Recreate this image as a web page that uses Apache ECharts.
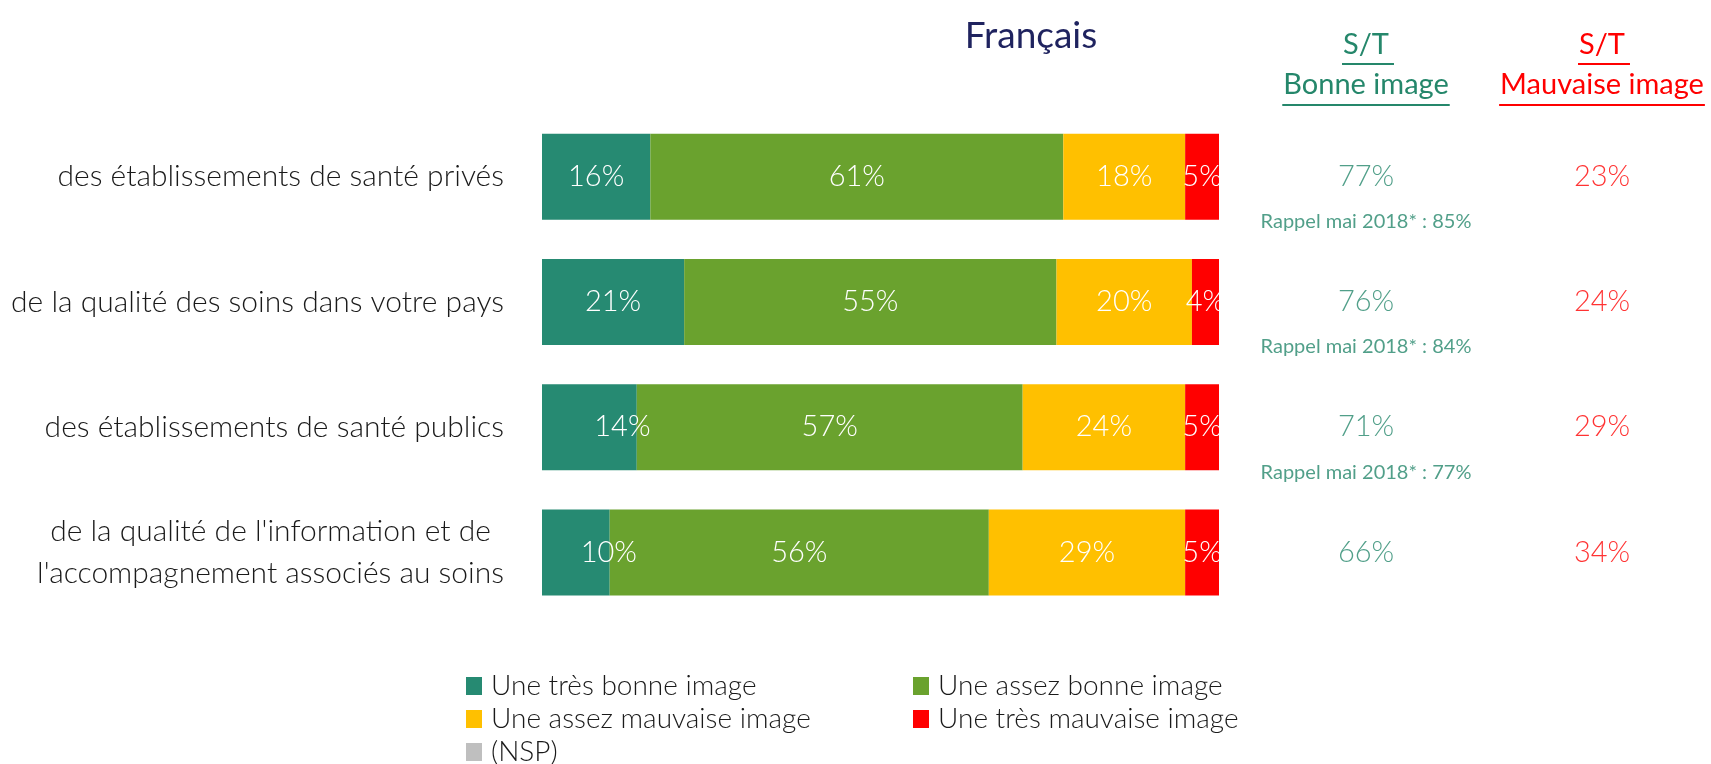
<!DOCTYPE html>
<html>
<head>
<meta charset="utf-8">
<title>Image des soins</title>
<script src="https://cdn.jsdelivr.net/npm/echarts@6/dist/echarts.min.js"></script>
<style>
  html, body { margin: 0; padding: 0; background: #fff; }
  #chart { width: 1711px; height: 764px; }
</style>
</head>
<body>
<div id="chart"></div>
<script>
// categories, top to bottom
var categories = [
  'des établissements de santé privés',
  'de la qualité des soins dans votre pays',
  'des établissements de santé publics',
  "de la qualité de l'information et de\nl'accompagnement associés au soins"
];
var seriesNames = ['Une très bonne image', 'Une assez bonne image', 'Une assez mauvaise image', 'Une très mauvaise image', '(NSP)'];
var tresBonne = [16, 21, 14, 10];
var assezBonne = [61, 55, 57, 56];
var assezMauvaise = [18, 20, 24, 29];
var tresMauvaise = [5, 4, 5, 5];
var nsp = [0, 0, 0, 0];
// sous-totaux
var stBonne = [77, 76, 71, 66];
var stMauvaise = [23, 24, 29, 34];
var rappel2018 = [85, 84, 77, null];

var colors = ['#268A72', '#6AA22E', '#FFC000', '#FF0000', '#BFBFBF'];
var GREEN_TXT = '#25876B';
var RED_TXT = '#FF0000';
var FONT = 'Lato';

var chart = echarts.init(document.getElementById('chart'));

var ctx = document.createElement('canvas').getContext('2d');
function textW(str, size) {
  ctx.font = size + 'px ' + FONT;
  return ctx.measureText(str).width;
}

function barSeries(name, vals, color, showLabel) {
  return {
    name: name,
    type: 'bar',
    stack: 'total',
    barWidth: 86,
    data: vals.map(function (v) {
      var item = { value: v };
      // small first segments: label pushed right as in the original
      if (name === seriesNames[0] && v < 15) item.label = { offset: [33, 0] };
      return item;
    }),
    itemStyle: { color: color },
    label: {
      show: showLabel,
      position: 'inside',
      color: '#fff',
      fontFamily: FONT,
      fontWeight: 300,
      fontSize: 29,
      formatter: function (p) { return p.value + '%'; }
    },
    silent: true
  };
}

function header(line1, line2, cx, color) {
  var s = 29;
  var w1 = textW(line1, s), w2 = textW(line2, s);
  return [
    { type: 'text', left: cx - w1 / 2, top: 30, style: { text: line1, font: s + 'px ' + FONT, fill: color } },
    { type: 'rect', shape: { x: cx - w1 / 2 - 1, y: 63, width: w1 + 6, height: 2 }, style: { fill: color } },
    { type: 'text', left: cx - w2 / 2, top: 70, style: { text: line2, font: s + 'px ' + FONT, fill: color } },
    { type: 'rect', shape: { x: cx - w2 / 2 - 1, y: 104, width: w2 + 2, height: 2 }, style: { fill: color } }
  ];
}

var legendText = { fontFamily: FONT, fontWeight: 300, fontSize: 28, color: '#1a1a1a', lineHeight: 30, padding: [0, 0, 0, 4] };

var option = {
  animation: false,
  title: {
    text: 'Français',
    left: 1026,
    top: 13,
    textAlign: 'center',
    textStyle: { fontFamily: FONT, fontSize: 37, fontWeight: 'normal', color: '#1F235F' }
  },
  legend: [
    {
      data: [seriesNames[0], seriesNames[2], seriesNames[4]],
      orient: 'vertical', left: 466, top: 671, height: 120, padding: 0, itemGap: 3,
      itemWidth: 16, itemHeight: 18, icon: 'rect', selectedMode: false,
      textStyle: legendText
    },
    {
      data: [seriesNames[1], seriesNames[3]],
      orient: 'vertical', left: 913, top: 671, height: 120, padding: 0, itemGap: 3,
      itemWidth: 16, itemHeight: 18, icon: 'rect', selectedMode: false,
      textStyle: legendText
    }
  ],
  grid: [
    { left: 542, width: 677, top: 114, height: 501 },
    { left: 1366, width: 236, top: 114, height: 501 }
  ],
  xAxis: [
    { type: 'value', min: 0, max: 100, show: false, gridIndex: 0 },
    { type: 'category', data: ['bonne', 'mauvaise'], boundaryGap: false, show: false, gridIndex: 1 }
  ],
  yAxis: [
    {
      type: 'category', inverse: true, data: categories, gridIndex: 0,
      axisLine: { show: false }, axisTick: { show: false },
      axisLabel: {
        margin: 38,
        formatter: function (v) {
          return v.split('\n').map(function (l) { return '{c|' + l + '}'; }).join('\n');
        },
        rich: {
          c: { fontFamily: FONT, fontWeight: 300, fontSize: 30, color: '#1a1a1a', align: 'center', lineHeight: 42 }
        }
      }
    },
    { type: 'category', inverse: true, data: categories, gridIndex: 1, show: false }
  ],
  series: [
    barSeries(seriesNames[0], tresBonne, colors[0], true),
    barSeries(seriesNames[1], assezBonne, colors[1], true),
    barSeries(seriesNames[2], assezMauvaise, colors[2], true),
    barSeries(seriesNames[3], tresMauvaise, colors[3], true),
    barSeries(seriesNames[4], nsp, colors[4], false),
    {
      type: 'scatter', xAxisIndex: 1, yAxisIndex: 1, symbolSize: 0, silent: true,
      data: stBonne.map(function (v, i) { return [0, i, v]; }),
      label: { show: true, position: 'inside', color: GREEN_TXT, fontFamily: FONT, fontWeight: 300, fontSize: 29,
        formatter: function (p) { return p.value[2] + '%'; } }
    },
    {
      type: 'scatter', xAxisIndex: 1, yAxisIndex: 1, symbolSize: 0, silent: true,
      data: stMauvaise.map(function (v, i) { return [1, i, v]; }),
      label: { show: true, position: 'inside', color: RED_TXT, fontFamily: FONT, fontWeight: 300, fontSize: 29,
        formatter: function (p) { return p.value[2] + '%'; } }
    },
    {
      type: 'scatter', xAxisIndex: 1, yAxisIndex: 1, symbolSize: 0, silent: true,
      data: rappel2018.map(function (v, i) { return [0, i, v]; }).filter(function (d) { return d[2] != null; }),
      label: { show: true, position: 'inside', offset: [0, 45], color: GREEN_TXT, fontFamily: FONT, fontSize: 20,
        formatter: function (p) { return 'Rappel mai 2018* : ' + p.value[2] + '%'; } }
    }
  ],
  graphic: header('S/T', 'Bonne image', 1366, GREEN_TXT).concat(header('S/T', 'Mauvaise image', 1602, RED_TXT))
};

chart.setOption(option);
</script>
</body>
</html>
